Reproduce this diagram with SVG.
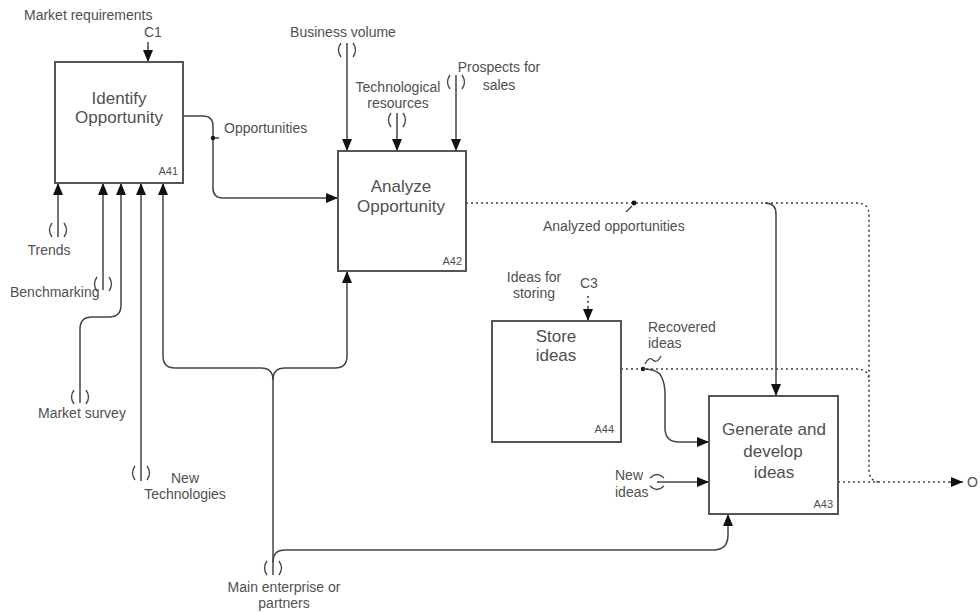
<svg xmlns="http://www.w3.org/2000/svg" width="980" height="612" viewBox="0 0 980 612">
<defs>
<marker id="ah" viewBox="0 0 12 10" refX="12" refY="5" markerWidth="12" markerHeight="10" orient="auto" markerUnits="userSpaceOnUse"><path d="M0,0 L12,5 L0,10 z" fill="#111"/></marker>
<style>
.box{fill:#fff;stroke:#555;stroke-width:2}
.ln{fill:none;stroke:#444;stroke-width:1.5}
.dt{fill:none;stroke:#444;stroke-width:1.6;stroke-dasharray:2,3}
.tn{fill:none;stroke:#444;stroke-width:1.3}
text{font-family:"Liberation Sans",Arial,sans-serif;fill:#505050}
.t{font-size:17px;text-anchor:middle}
.id{font-size:11px;text-anchor:end}
.lb{font-size:14px}
.m{text-anchor:middle}
</style>
</defs>
<rect width="980" height="612" fill="#fff"/>

<g id="connectors">
<!-- C1 -->
<path class="ln" d="M148,42 V62" marker-end="url(#ah)"/>
<!-- Opportunities -->
<path class="ln" d="M183,116 H203 Q213,116 213,126 V188 Q213,198 223,198 H338" marker-end="url(#ah)"/>
<circle cx="213" cy="138" r="2.2" fill="#111"/>
<path class="ln" d="M214,138 H219"/>
<!-- A41 inputs from bottom -->
<path class="ln" d="M58,237 V183" marker-end="url(#ah)"/>
<path class="ln" d="M103,290 V183" marker-end="url(#ah)"/>
<path class="ln" d="M80,403 V329 Q80,317 92,317 H109 Q121,317 121,305 V183" marker-end="url(#ah)"/>
<path class="ln" d="M141,481 V183" marker-end="url(#ah)"/>
<!-- Main enterprise -->
<path class="ln" d="M273,575 V380"/>
<path class="ln" d="M273,380 Q273,368 261,368 H175 Q163,368 163,356 V183" marker-end="url(#ah)"/>
<path class="ln" d="M273,380 Q273,368 285,368 H335 Q347,368 347,356 V271" marker-end="url(#ah)"/>
<path class="ln" d="M273,562 Q273,550 285,550 H713 Q728,550 728,535 V514" marker-end="url(#ah)"/>
<!-- A42 controls -->
<path class="ln" d="M347,43 V151" marker-end="url(#ah)"/>
<path class="ln" d="M397,113 V151" marker-end="url(#ah)"/>
<path class="ln" d="M456,75 V151" marker-end="url(#ah)"/>
<!-- Analyzed opportunities -->
<path class="dt" d="M466,203 H857 Q869,203 869,215 V470 Q869,482 881,482"/>
<circle cx="634" cy="203" r="2.4" fill="#111"/>
<path class="ln" d="M632,206 L626,212" stroke-width="1.2"/>
<path class="ln" d="M765,203 Q776,203 776,214 V396" marker-end="url(#ah)"/>
<!-- C3 -->
<path class="dt" d="M588,296 V307"/>
<path class="ln" d="M588,307 V321" marker-end="url(#ah)"/>
<!-- Recovered ideas -->
<path class="dt" d="M621,369 H857 Q869,369 869,381"/>
<circle cx="643" cy="369" r="2.2" fill="#111"/>
<path class="ln" d="M643,369 Q659,369 662,378 Q665,384 665,395 V428 Q665,442 679,442 H709" marker-end="url(#ah)"/>
<path class="tn" d="M645,364 Q649,356 653,360 Q657,364 661,356"/>
<!-- New ideas -->
<path class="ln" d="M657,482 H709" marker-end="url(#ah)"/>
<!-- Output -->
<path class="dt" d="M838,482 H952"/>
<path class="ln" d="M950,482 H963" marker-end="url(#ah)"/>
<!-- tunnels -->
<path class="tn" d="M52,223 Q47,230 52,237 M64,223 Q69,230 64,237"/>
<path class="tn" d="M97,277 Q92,284 97,291 M109,277 Q114,284 109,291"/>
<path class="tn" d="M74,390 Q69,397 74,404 M86,390 Q91,397 86,404"/>
<path class="tn" d="M135,466 Q130,473 135,480 M147,466 Q152,473 147,480"/>
<path class="tn" d="M267,561 Q262,568 267,575 M279,561 Q284,568 279,575"/>
<path class="tn" d="M341,43 Q336,50 341,57 M353,43 Q358,50 353,57"/>
<path class="tn" d="M391,113 Q386,120 391,127 M403,113 Q408,120 403,127"/>
<path class="tn" d="M450,75 Q445,82 450,89 M462,75 Q467,82 462,89"/>
<path class="tn" d="M650,478 Q657,471 664,478 M650,486 Q657,493 664,486"/>
</g>

<g id="A41">
<rect class="box" x="55" y="62" width="128" height="121"/>
<text class="t" x="119" y="104">Identify</text>
<text class="t" x="119" y="123">Opportunity</text>
<text class="id" x="178" y="175">A41</text>
</g>
<g id="A42">
<rect class="box" x="338" y="151" width="128" height="120"/>
<text class="t" x="401" y="192">Analyze</text>
<text class="t" x="401" y="212">Opportunity</text>
<text class="id" x="462" y="265">A42</text>
</g>
<g id="A44">
<rect class="box" x="492" y="321" width="129" height="121"/>
<text class="t" x="556" y="342">Store</text>
<text class="t" x="556" y="361">ideas</text>
<text class="id" x="614" y="433">A44</text>
</g>
<g id="A43">
<rect class="box" x="709" y="396" width="129" height="118"/>
<text class="t" x="774" y="435">Generate and</text>
<text class="t" x="773" y="457">develop</text>
<text class="t" x="774" y="478">ideas</text>
<text class="id" x="833" y="508">A43</text>
</g>

<g id="labels">
<text class="lb" x="24" y="20">Market requirements</text>
<text class="lb" x="144" y="37">C1</text>
<text class="lb" x="224" y="133">Opportunities</text>
<text class="lb m" x="49" y="255">Trends</text>
<text class="lb" x="10" y="297">Benchmarking</text>
<text class="lb" x="38" y="418">Market survey</text>
<text class="lb m" x="185" y="483">New</text>
<text class="lb m" x="185" y="499">Technologies</text>
<text class="lb m" x="284" y="592">Main enterprise or</text>
<text class="lb m" x="284" y="608">partners</text>
<text class="lb m" x="343" y="37">Business volume</text>
<text class="lb m" x="398" y="92">Technological</text>
<text class="lb m" x="398" y="108">resources</text>
<text class="lb m" x="499" y="72">Prospects for</text>
<text class="lb m" x="499" y="90">sales</text>
<text class="lb" x="543" y="231">Analyzed opportunities</text>
<text class="lb m" x="534" y="282">Ideas for</text>
<text class="lb m" x="534" y="298">storing</text>
<text class="lb" x="580" y="288">C3</text>
<text class="lb" x="648" y="332">Recovered</text>
<text class="lb" x="648" y="348">ideas</text>
<text class="lb" x="615" y="480">New</text>
<text class="lb" x="615" y="497">ideas</text>
<text class="lb" x="967" y="487">O</text>
</g>
</svg>
